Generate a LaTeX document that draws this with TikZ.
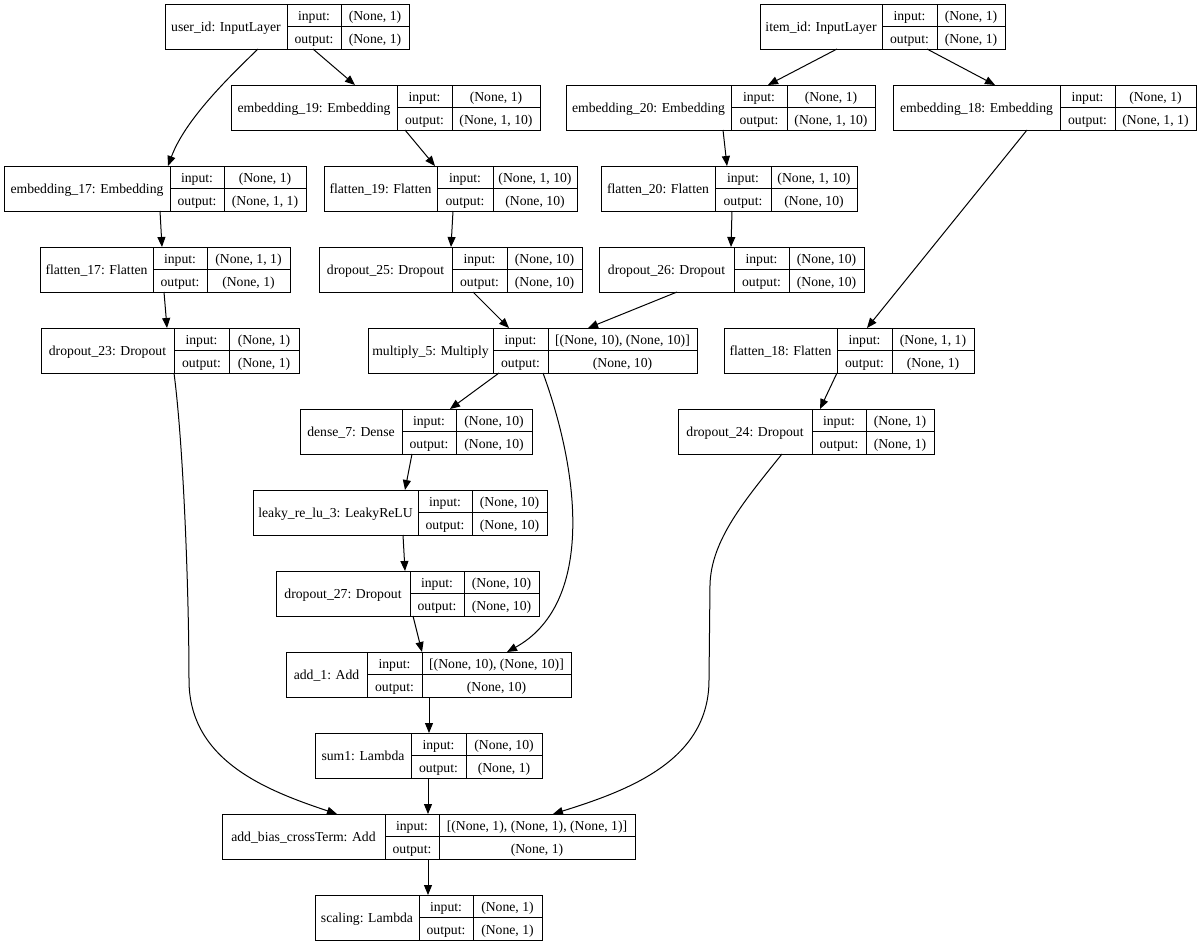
\documentclass[tikz,border=0pt]{standalone}
\usepackage{fontspec}
\setmainfont{Liberation Serif}
\usetikzlibrary{fit,arrows.meta}
\tikzset{
  lbl/.style={font=\fontsize{13.7}{16}\selectfont, inner sep=0pt, anchor=center, text height=13.5pt, text depth=3pt},
  boxframe/.style={draw, inner sep=0pt, outer sep=0pt, line width=1pt},
  grid/.style={line width=1pt},
  arr/.style={line width=1pt, -{Triangle[length=10pt,width=8pt]}}
}
\newcommand\layer[9]{%
  \pgfmathsetmacro\lya{#3}\pgfmathsetmacro\lyb{#3+45}\pgfmathsetmacro\lym{#3+22.5}%
  \pgfmathsetmacro\lyi{#3+11.25}\pgfmathsetmacro\lyo{#3+33.75}%
  \node[boxframe, fit={(#2,\lya) (#6,\lyb)}] (#1) {};
  \draw[grid] (#4,\lya) -- (#4,\lyb) (#5,\lya) -- (#5,\lyb) (#4,\lym) -- (#6,\lym);
  \node[lbl] (#1-t) at ({(#2+#4)/2},\lym) {#7};
  \node[lbl] (#1-ik) at ({(#4+#5)/2},\lyi) {input:};
  \node[lbl] (#1-iv) at ({(#5+#6)/2},\lyi) {#8};
  \node[lbl] (#1-ok) at ({(#4+#5)/2},\lyo) {output:};
  \node[lbl] (#1-ov) at ({(#5+#6)/2},\lyo) {#9};
}
\begin{document}
\begin{tikzpicture}[x=1pt,y=-1pt]
\useasboundingbox[fill=white] (0,0) rectangle (1200,945);
\layer{uid}{165}{4}{287}{341}{409}{user\_id: InputLayer}{(None, 1)}{(None, 1)}
\layer{iid}{760}{4}{882}{937}{1005}{item\_id: InputLayer}{(None, 1)}{(None, 1)}
\layer{e19}{231}{85}{397}{452}{540}{embedding\_19: Embedding}{(None, 1)}{(None, 1, 10)}
\layer{e20}{566}{85}{731}{787}{875}{embedding\_20: Embedding}{(None, 1)}{(None, 1, 10)}
\layer{e18}{893}{85}{1060}{1115}{1196}{embedding\_18: Embedding}{(None, 1)}{(None, 1, 1)}
\layer{e17}{4}{166}{170}{224}{306}{embedding\_17: Embedding}{(None, 1)}{(None, 1, 1)}
\layer{f19}{324}{166}{437}{493}{577}{flatten\_19: Flatten}{(None, 1, 10)}{(None, 10)}
\layer{f20}{601}{166}{715}{771}{857}{flatten\_20: Flatten}{(None, 1, 10)}{(None, 10)}
\layer{f17}{40}{247}{153}{207}{290}{flatten\_17: Flatten}{(None, 1, 1)}{(None, 1)}
\layer{d25}{319}{247}{452}{507}{582}{dropout\_25: Dropout}{(None, 10)}{(None, 10)}
\layer{d26}{599}{247}{734}{789}{864}{dropout\_26: Dropout}{(None, 10)}{(None, 10)}
\layer{d23}{41}{328}{174}{229}{299}{dropout\_23: Dropout}{(None, 1)}{(None, 1)}
\layer{m5}{368}{328}{493}{548}{697}{multiply\_5: Multiply}{[(None, 10), (None, 10)]}{(None, 10)}
\layer{f18}{724}{328}{837}{892}{974}{flatten\_18: Flatten}{(None, 1, 1)}{(None, 1)}
\layer{de7}{300}{409}{402}{456}{532}{dense\_7: Dense}{(None, 10)}{(None, 10)}
\layer{d24}{678}{409}{812}{866}{934}{dropout\_24: Dropout}{(None, 1)}{(None, 1)}
\layer{lr}{253}{490}{418}{472}{547}{leaky\_re\_lu\_3: LeakyReLU}{(None, 10)}{(None, 10)}
\layer{d27}{276}{571}{410}{464}{539}{dropout\_27: Dropout}{(None, 10)}{(None, 10)}
\layer{a1}{286}{652}{367}{422}{571}{add\_1: Add}{[(None, 10), (None, 10)]}{(None, 10)}
\layer{s1}{315}{733}{411}{466}{542}{sum1: Lambda}{(None, 10)}{(None, 1)}
\layer{ab}{222}{814}{385}{439}{635}{add\_bias\_crossTerm: Add}{[(None, 1), (None, 1), (None, 1)]}{(None, 1)}
\layer{sc}{315}{895}{419}{473}{542}{scaling: Lambda}{(None, 1)}{(None, 1)}
% connectors
\draw[arr] ([xshift=93pt]uid.south west) .. controls (228,78) and (185,120) .. ([xshift=164pt]e17.north west);
\draw[arr] ([xshift=148pt]uid.south west) -- ([xshift=124pt]e19.north west);
\draw[arr] ([xshift=77pt]iid.south west) -- ([xshift=202pt]e20.north west);
\draw[arr] ([xshift=167pt]iid.south west) -- ([xshift=102pt]e18.north west);
\draw[arr] ([xshift=174pt]e19.south west) -- ([xshift=111pt]f19.north west);
\draw[arr] ([xshift=157pt]e20.south west) -- ([xshift=126pt]f20.north west);
\draw[arr] ([xshift=134pt]e18.south west) -- ([xshift=143pt]f18.north west);
\draw[arr] ([xshift=156pt]e17.south west) -- ([xshift=122pt]f17.north west);
\draw[arr] ([xshift=129pt]f19.south west) -- ([xshift=132pt]d25.north west);
\draw[arr] ([xshift=131pt]f20.south west) -- ([xshift=132pt]d26.north west);
\draw[arr] ([xshift=124pt]f17.south west) -- ([xshift=126pt]d23.north west);
\draw[arr] ([xshift=154pt]d25.south west) -- ([xshift=141pt]m5.north west);
\draw[arr] ([xshift=78pt]d26.south west) -- ([xshift=220pt]m5.north west);
\draw[arr] ([xshift=133pt]d23.south west) .. controls (184,450) and (189,600) .. (189,680) .. controls (189,760) and (265,790) .. ([xshift=115pt]ab.north west);
\draw[arr] ([xshift=131pt]m5.south west) -- ([xshift=150pt]de7.north west);
\draw[arr] ([xshift=175pt]m5.south west) .. controls (582,480) and (592,605) .. ([xshift=221pt]a1.north west);
\draw[arr] ([xshift=112pt]de7.south west) -- ([xshift=152pt]lr.north west);
\draw[arr] ([xshift=150pt]lr.south west) -- ([xshift=129pt]d27.north west);
\draw[arr] ([xshift=137pt]d27.south west) -- ([xshift=136pt]a1.north west);
\draw[arr] ([xshift=143pt]a1.south west) -- ([xshift=114pt]s1.north west);
\draw[arr] ([xshift=113pt]s1.south west) -- ([xshift=206pt]ab.north west);
\draw[arr] ([xshift=104pt]d24.south west) .. controls (745,500) and (711,540) .. (710,585) -- (709,680) .. controls (709,760) and (630,790) .. ([xshift=331pt]ab.north west);
\draw[arr] ([xshift=206pt]ab.south west) -- ([xshift=113pt]sc.north west);
\draw[arr] ([xshift=113pt]f18.south west) -- ([xshift=142pt]d24.north west);
\end{tikzpicture}
\end{document}
